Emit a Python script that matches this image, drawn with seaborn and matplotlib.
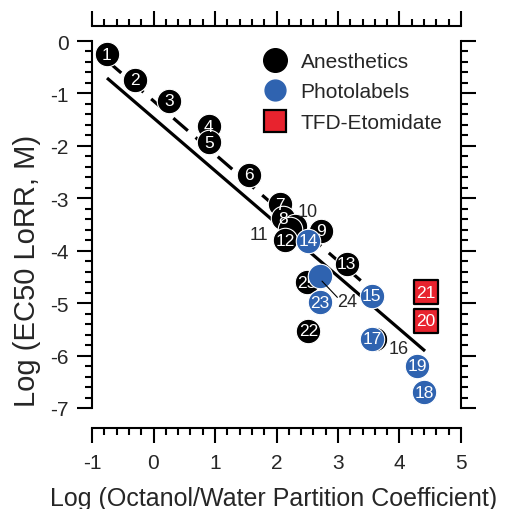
import numpy as np
import pandas as pd
import matplotlib
matplotlib.use("Agg")
import matplotlib.pyplot as plt
import seaborn as sns
from matplotlib.ticker import MultipleLocator
from matplotlib.lines import Line2D

# ---------------- data ----------------
ids = list(range(1, 26))
log_p = [-0.76, -0.30, 0.25, 0.90, 0.91, 1.55, 2.06, 2.10, 2.72, 2.30,
         2.22, 2.14, 3.14, 2.52, 3.55, 3.60, 3.56, 4.40, 4.29, 4.43,
         4.43, 2.52, 2.71, 2.71, 2.50]
log_ec50 = [-0.25, -0.74, -1.14, -1.63, -1.93, -2.55, -3.11, -3.38, -3.62, -3.52,
            -3.59, -3.80, -4.25, -3.81, -4.86, -5.68, -5.68, -6.70, -6.19, -5.34,
            -4.79, -5.53, -4.98, -4.48, -4.60]
groups = ["Anesthetics"] * 13 + ["Photolabels", "Photolabels", "Anesthetics",
          "Photolabels", "Photolabels", "Photolabels", "TFD-Etomidate",
          "TFD-Etomidate", "Anesthetics", "Photolabels", "Photolabels", "Anesthetics"]
# numbers drawn beside the point instead of inside
outside_labels = [10, 11, 16, 24]

# regression lines (end points)
fit_all_x = [-0.756, 4.415]
fit_all_y = [-0.706, -5.913]
fit_anes_x = [-0.76, 3.37]
fit_anes_y = [-0.37, -4.57]

x_ticks = [-1, 0, 1, 2, 3, 4, 5]
y_ticks = [0, -1, -2, -3, -4, -5, -6, -7]

df = pd.DataFrame({"id": ids, "logP": log_p, "logEC50": log_ec50, "group": groups})

# ---------------- style ----------------
sns.set_style("white")
plt.rcParams["font.family"] = ["Liberation Sans", "DejaVu Sans"]
plt.rcParams["axes.unicode_minus"] = False

BLUE = "#2f63b0"
RED = "#e8232e"

fig = plt.figure(figsize=(5.05, 5.10), dpi=100)
W, H = 505, 510
ax = fig.add_axes([92 / W, (H - 409) / H, (461 - 92) / W, (409 - 42) / H])
ax.set_xlim(-1, 5)
ax.set_ylim(-7, 0)

# lines
ax.plot(fit_all_x, fit_all_y, color="black", lw=2.3, solid_capstyle="butt", zorder=1)
ax.plot(fit_anes_x, fit_anes_y, color="black", lw=2.3, ls=(0, (6, 3.2)),
        dash_capstyle="butt", zorder=1)

styles = {
    "Anesthetics": dict(color="black", marker="o", s=310, edgecolor="white", linewidth=0.8, z=2),
    "Photolabels": dict(color=BLUE, marker="o", s=310, edgecolor="white", linewidth=0.8, z=4),
    "TFD-Etomidate": dict(color=RED, marker="s", s=280, edgecolor="black", linewidth=1.6, z=4),
}

for g, st in styles.items():
    sub = df[df.group == g]
    sns.scatterplot(data=sub, x="logP", y="logEC50", ax=ax, color=st["color"],
                    marker=st["marker"], s=st["s"], edgecolor=st["edgecolor"],
                    linewidth=st["linewidth"], legend=False, zorder=st["z"])
    for _, r in sub.iterrows():
        if r.id in outside_labels:
            continue
        ax.text(r.logP, r.logEC50, str(r.id), color="white", fontsize=12.5,
                ha="center", va="center", zorder=st["z"] + 0.5)

# outside labels (positions in data coordinates)
ax.text(2.51, -3.26, "10", fontsize=13, ha="center", va="center", zorder=6)
ax.text(1.72, -3.70, "11", fontsize=13, ha="center", va="center", zorder=6)
ax.text(3.98, -5.86, "16", fontsize=13, ha="center", va="center", zorder=6)
ax.text(3.15, -4.96, "24", fontsize=13, ha="center", va="center", zorder=6)
ax.plot([2.74, 2.99], [-4.58, -4.89], color="black", lw=0.8, zorder=6)

# axes / ticks
ax.xaxis.set_major_locator(plt.FixedLocator(x_ticks))
ax.yaxis.set_major_locator(plt.FixedLocator(y_ticks))
ax.xaxis.set_minor_locator(MultipleLocator(0.2))
ax.yaxis.set_minor_locator(MultipleLocator(0.2))
ax.set_xticklabels([str(t) for t in x_ticks])
ax.set_yticklabels([str(t) for t in y_ticks])
for sp in ax.spines.values():
    sp.set_visible(True)
    sp.set_linewidth(1.5)
    sp.set_color("black")
ax.spines["bottom"].set_position(("outward", 14.4))
ax.spines["top"].set_position(("outward", 10.8))
ax.tick_params(which="both", direction="out", width=1.5, color="black",
               top=True, right=True, bottom=True, left=True,
               labeltop=False, labelright=False)
ax.tick_params(which="major", length=10.8)
ax.tick_params(which="minor", length=5)
ax.tick_params(axis="x", which="major", labelsize=15, pad=7)
ax.tick_params(axis="y", which="major", labelsize=15, pad=6)
ax.grid(False)

ax.set_xlabel("Log (Octanol/Water Partition Coefficient)", fontsize=18)
ax.set_ylabel("Log (EC50 LoRR, M)", fontsize=21)
ax.xaxis.set_label_coords(0.492, -0.212)
ax.yaxis.set_label_coords(-0.138, 0.376)

# legend
handles = [
    Line2D([], [], ls="", marker="o", markersize=17, markerfacecolor="black", markeredgecolor="black"),
    Line2D([], [], ls="", marker="o", markersize=15, markerfacecolor=BLUE, markeredgecolor=BLUE),
    Line2D([], [], ls="", marker="s", markersize=16, markerfacecolor=RED, markeredgecolor="black", markeredgewidth=1.6),
]
ax.legend(handles, ["Anesthetics", "Photolabels", "TFD-Etomidate"],
          loc="upper left", bbox_to_anchor=(259 / W, (H - 53) / H),
          bbox_transform=fig.transFigure, frameon=False, fontsize=15,
          handlelength=1.5, handletextpad=0.5, labelspacing=0.55,
          borderpad=0, borderaxespad=0)

fig.savefig("out.png", dpi=100)
